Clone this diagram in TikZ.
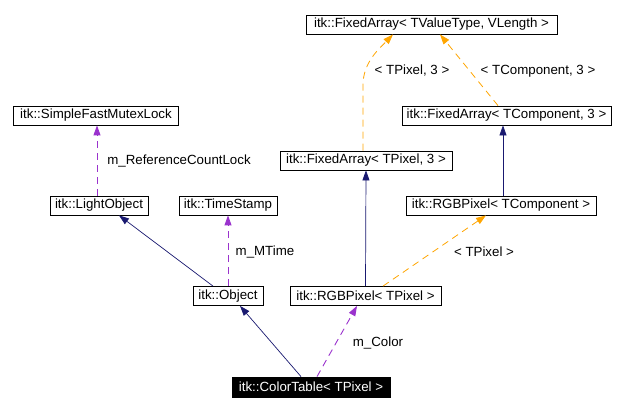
\documentclass[tikz,border=0pt]{standalone}
\usepackage{fontspec}
\setmainfont{Liberation Sans}
\usetikzlibrary{arrows.meta}
\definecolor{navyc}{RGB}{25,25,112}
\definecolor{purplec}{RGB}{154,50,205}
\definecolor{orangec}{RGB}{255,165,0}
\tikzset{
  cls/.style={draw=black, line width=0.8pt, fill=white, inner sep=0pt, minimum height=19pt, font=\fontsize{13.3}{15}\selectfont},
  lbl/.style={inner sep=0pt, font=\fontsize{13.3}{15}\selectfont},
  inherit/.style={draw=navyc, line width=0.7pt, -{Triangle[length=10pt,width=7pt]}},
  usage/.style={draw=purplec, line width=0.9pt, dash pattern=on 7pt off 5pt, -{Triangle[length=10pt,width=7pt,fill=purplec]}},
  tmpl/.style={draw=orangec, line width=0.8pt, dash pattern=on 7pt off 5pt, -{Triangle[length=10pt,width=7pt,fill=orangec]}}
}
\begin{document}
\begin{tikzpicture}[x=1pt,y=-1pt]
\useasboundingbox (0,0) rectangle (637,411);
\node[cls, minimum width=251pt] (fatv) at (431.5,24.5) {itk::FixedArray< TValueType, VLength >};
\node[cls, minimum width=165pt] (sfml) at (96,115.5) {itk::SimpleFastMutexLock};
\node[cls, minimum width=209pt] (fatc) at (506.5,115.5) {itk::FixedArray< TComponent, 3 >};
\node[cls, minimum width=172pt] (fatp3) at (366,160.5) {itk::FixedArray< TPixel, 3 >};
\node[cls, minimum width=98pt] (lightobj) at (99,205.5) {itk::LightObject};
\node[cls, minimum width=98pt] (timestamp) at (228,205.5) {itk::TimeStamp};
\node[cls, minimum width=190pt] (rgbtc) at (501,205.5) {itk::RGBPixel< TComponent >};
\node[cls, minimum width=70pt] (object) at (228,296) {itk::Object};
\node[cls, minimum width=151pt] (rgbtp) at (365.5,296) {itk::RGBPixel< TPixel >};
\node[cls, minimum width=158pt, minimum height=20pt, fill=black, text=white] (ct) at (311,387) {itk::ColorTable< TPixel >};

\draw[tmpl] ([xshift=-3pt]fatp3.north) -- (363,85) .. controls (363,62) and (380,48) .. ([xshift=-38.5pt]fatv.south);
\node[lbl] (l1) at (412,71) {< TPixel, 3 >};
\draw[tmpl] ([xshift=-8.5pt]fatc.north) -- ([xshift=8.5pt]fatv.south);
\node[lbl] (l2) at (538,71) {< TComponent, 3 >};
\draw[usage] ([xshift=-2pt]lightobj.north) -- ([xshift=1pt]sfml.south);
\node[lbl] (l3) at (179,161) {m\_ReferenceCountLock};
\draw[inherit] ([xshift=-15pt]object.north) -- ([xshift=20pt]lightobj.south);
\draw[usage] (object.north) -- (timestamp.south);
\node[lbl] (l4) at (265,252) {m\_MTime};
\draw[inherit] (rgbtp.north) -- (fatp3.south);
\draw[inherit] ([xshift=2pt]rgbtc.north) -- ([xshift=-3.5pt]fatc.south);
\draw[tmpl] ([xshift=17.5pt]rgbtp.north) -- ([xshift=-15pt]rgbtc.south);
\node[lbl] (l5) at (484,252) {< TPixel >};
\draw[inherit] ([xshift=-10pt]ct.north) -- ([xshift=12pt]object.south);
\draw[usage] ([xshift=6pt]ct.north) -- ([xshift=-8.5pt]rgbtp.south);
\node[lbl] (l6) at (378,343) {m\_Color};
\end{tikzpicture}
\end{document}
